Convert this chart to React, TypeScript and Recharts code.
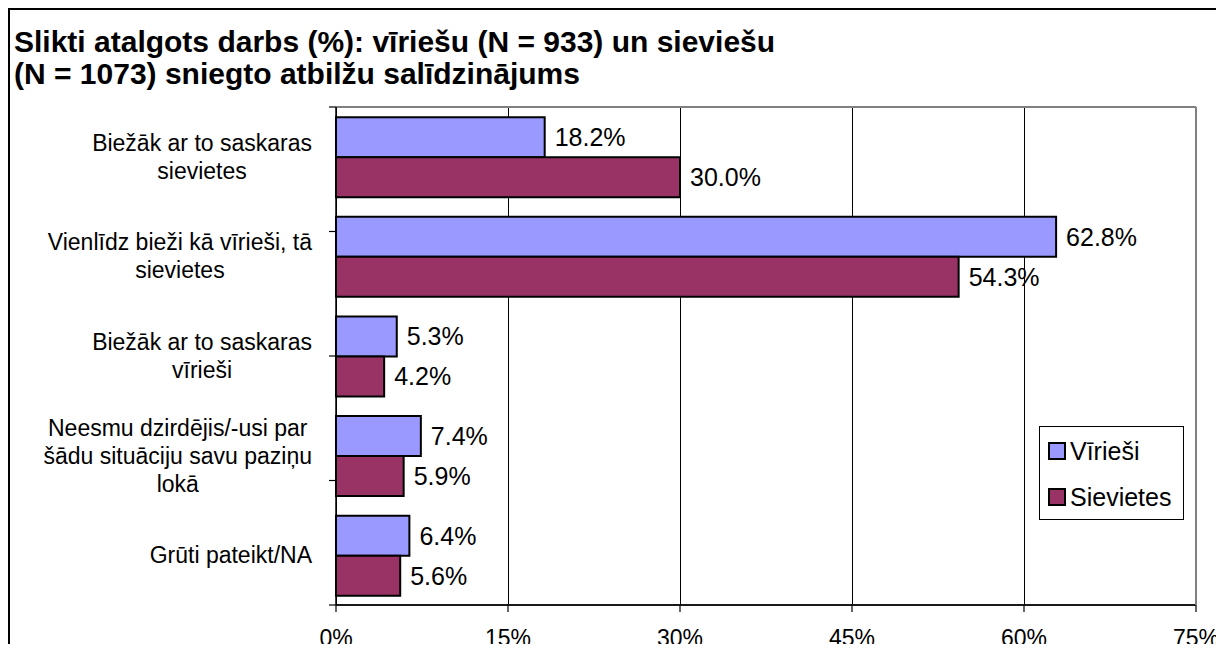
import React from 'react';
import { BarChart, Bar, XAxis, YAxis, CartesianGrid, LabelList, Legend } from 'recharts';

const categories = [
  'Biežāk ar to saskaras\nsievietes',
  'Vienlīdz bieži kā vīrieši, tā\nsievietes',
  'Biežāk ar to saskaras\nvīrieši',
  'Neesmu dzirdējis/-usi par\nšādu situāciju savu paziņu\nlokā',
  'Grūti pateikt/NA',
];
const viriesi = [18.2, 62.8, 5.3, 7.4, 6.4];
const sievietes = [30.0, 54.3, 4.2, 5.9, 5.6];
const xTicks = [0, 15, 30, 45, 60, 75];
const edgeTicks = [0, 1, 2, 3, 4, 5];
const seriesNames = ['Vīrieši', 'Sievietes'];
const seriesColors = ['#9999FF', '#993366'];
const titleLines = [
  'Slikti atalgots darbs (%): vīriešu (N = 933) un sieviešu',
  '(N = 1073) sniegto atbilžu salīdzinājums',
];

const data = categories.map((c, i) => ({ cat: c, m: viriesi[i], f: sievietes[i] }));

const FONT = '"Liberation Sans", Arial, Helvetica, sans-serif';
const Y_FONT = 23;

let ctx: CanvasRenderingContext2D | null = null;
function measure(s: string, size: number): number {
  if (!ctx) ctx = document.createElement('canvas').getContext('2d');
  if (!ctx) return s.length * size * 0.5;
  ctx.font = `${size}px "Liberation Sans", Arial, sans-serif`;
  return ctx.measureText(s).width;
}

const CatTick = (props: any) => {
  const { x, y, payload } = props;
  const lines = String(payload.value).split('\n');
  const maxW = Math.max(...lines.map((l) => measure(l, Y_FONT)));
  const cx = x - maxW / 2;
  const lh = 28;
  const y0 = y - ((lines.length - 1) * lh) / 2;
  return (
    <text textAnchor="middle" fontSize={Y_FONT} fontFamily={FONT} fill="#000">
      {lines.map((l, i) => (
        <tspan key={i} x={cx} y={y0 + i * lh} dy="0.35em">
          {l}
        </tspan>
      ))}
    </text>
  );
};

const EmptyTick = () => <g />;

const LegendBox = (props: any) => {
  const payload = [...(props.payload || [])].sort(
    (a: any, b: any) => seriesNames.indexOf(a.value) - seriesNames.indexOf(b.value)
  );
  return (
    <div
      style={{
        border: '1px solid #000',
        background: '#fff',
        width: 145,
        height: 94,
        boxSizing: 'border-box',
        position: 'relative',
        fontFamily: FONT,
        fontSize: 25,
        color: '#000',
      }}
    >
      {payload.map((entry: any, i: number) => (
        <div
          key={entry.value}
          style={{
            position: 'absolute',
            left: 8,
            top: 15 + i * 46,
            height: 18,
            display: 'flex',
            alignItems: 'center',
            whiteSpace: 'nowrap',
          }}
        >
          <span
            style={{
              display: 'inline-block',
              width: 18,
              height: 18,
              background: entry.color,
              border: '2px solid #000',
              boxSizing: 'border-box',
              marginRight: 4,
            }}
          />
          <span style={{ lineHeight: '18px' }}>{entry.value}</span>
        </div>
      ))}
    </div>
  );
};

const bottomEdge = (p: any) => {
  const o = p && p.offset ? p.offset : null;
  return o ? [o.top + o.height] : [];
};

export default function App() {
  return (
    <div
      style={{
        position: 'relative',
        width: 1216,
        height: 644,
        marginBottom: -8,
        overflow: 'hidden',
        fontFamily: FONT,
      }}
    >
      <div
        style={{
          position: 'absolute',
          left: 0,
          top: 0,
          width: 1216,
          height: 660,
          borderTop: '2px solid #000',
          borderLeft: '2px solid #000',
          boxSizing: 'border-box',
          pointerEvents: 'none',
        }}
      />
      <div
        style={{
          position: 'absolute',
          left: 6,
          top: 18,
          fontWeight: 'bold',
          fontSize: 30,
          lineHeight: '32px',
          color: '#000',
          whiteSpace: 'nowrap',
        }}
      >
        {titleLines.map((t) => (
          <div key={t}>{t}</div>
        ))}
      </div>
      <div style={{ position: 'absolute', left: 0, top: 0 }}>
        <BarChart
          width={1216}
          height={644}
          data={data}
          layout="vertical"
          margin={{ top: 98, right: 27, left: 0, bottom: 0 }}
          barCategoryGap="10.3%"
          barGap={0}
        >
          <CartesianGrid
            horizontal={false}
            vertical={true}
            stroke="#000"
            strokeWidth={1}
            shapeRendering="crispEdges"
          />
          <CartesianGrid
            horizontal={true}
            vertical={false}
            horizontalCoordinatesGenerator={bottomEdge}
            stroke="#1a1a1a"
            strokeWidth={2}
          />
          <XAxis
            xAxisId={0}
            type="number"
            domain={[0, 75]}
            ticks={xTicks}
            tickFormatter={(v: number) => `${v}%`}
            height={47}
            tickSize={7}
            tickMargin={18}
            axisLine={{ stroke: '#1a1a1a', strokeWidth: 2 }}
            tickLine={{ stroke: '#000', strokeWidth: 1.2 }}
            tick={{ fontSize: 23, fill: '#000', fontFamily: FONT }}
            interval={0}
          />
          <XAxis
            xAxisId="top"
            orientation="top"
            type="number"
            domain={[0, 75]}
            height={1}
            tick={false}
            tickLine={false}
            axisLine={{ stroke: '#808080', strokeWidth: 2 }}
          />
          <YAxis
            yAxisId={0}
            orientation="left"
            type="number"
            domain={[0, 5]}
            ticks={edgeTicks}
            width={1}
            tick={<EmptyTick />}
            tickSize={7}
            tickLine={{ stroke: '#000', strokeWidth: 1.2 }}
            axisLine={{ stroke: '#000', strokeWidth: 1.5 }}
            interval={0}
          />
          <YAxis
            yAxisId="cat"
            type="category"
            dataKey="cat"
            width={327}
            tickSize={0}
            tickMargin={23}
            tickLine={false}
            axisLine={false}
            tick={<CatTick />}
            interval={0}
          />
          <YAxis
            yAxisId="right"
            orientation="right"
            type="number"
            domain={[0, 5]}
            width={1}
            tick={false}
            tickLine={false}
            axisLine={{ stroke: '#808080', strokeWidth: 2 }}
          />
          <Legend
            layout="vertical"
            align="center"
            verticalAlign="middle"
            content={<LegendBox />}
            wrapperStyle={{ left: 1031, top: 418, width: 145, height: 94 }}
          />
          <Bar
            yAxisId="cat"
            dataKey="m"
            name={seriesNames[0]}
            fill={seriesColors[0]}
            stroke="#000"
            strokeWidth={2}
            isAnimationActive={false}
          >
            <LabelList
              dataKey="m"
              position="right"
              offset={10}
              formatter={(v: number) => `${v.toFixed(1)}%`}
              style={{ fontSize: 25, fill: '#000', fontFamily: FONT }}
            />
          </Bar>
          <Bar
            yAxisId="cat"
            dataKey="f"
            name={seriesNames[1]}
            fill={seriesColors[1]}
            stroke="#000"
            strokeWidth={2}
            isAnimationActive={false}
          >
            <LabelList
              dataKey="f"
              position="right"
              offset={10}
              formatter={(v: number) => `${v.toFixed(1)}%`}
              style={{ fontSize: 25, fill: '#000', fontFamily: FONT }}
            />
          </Bar>
        </BarChart>
      </div>
    </div>
  );
}
